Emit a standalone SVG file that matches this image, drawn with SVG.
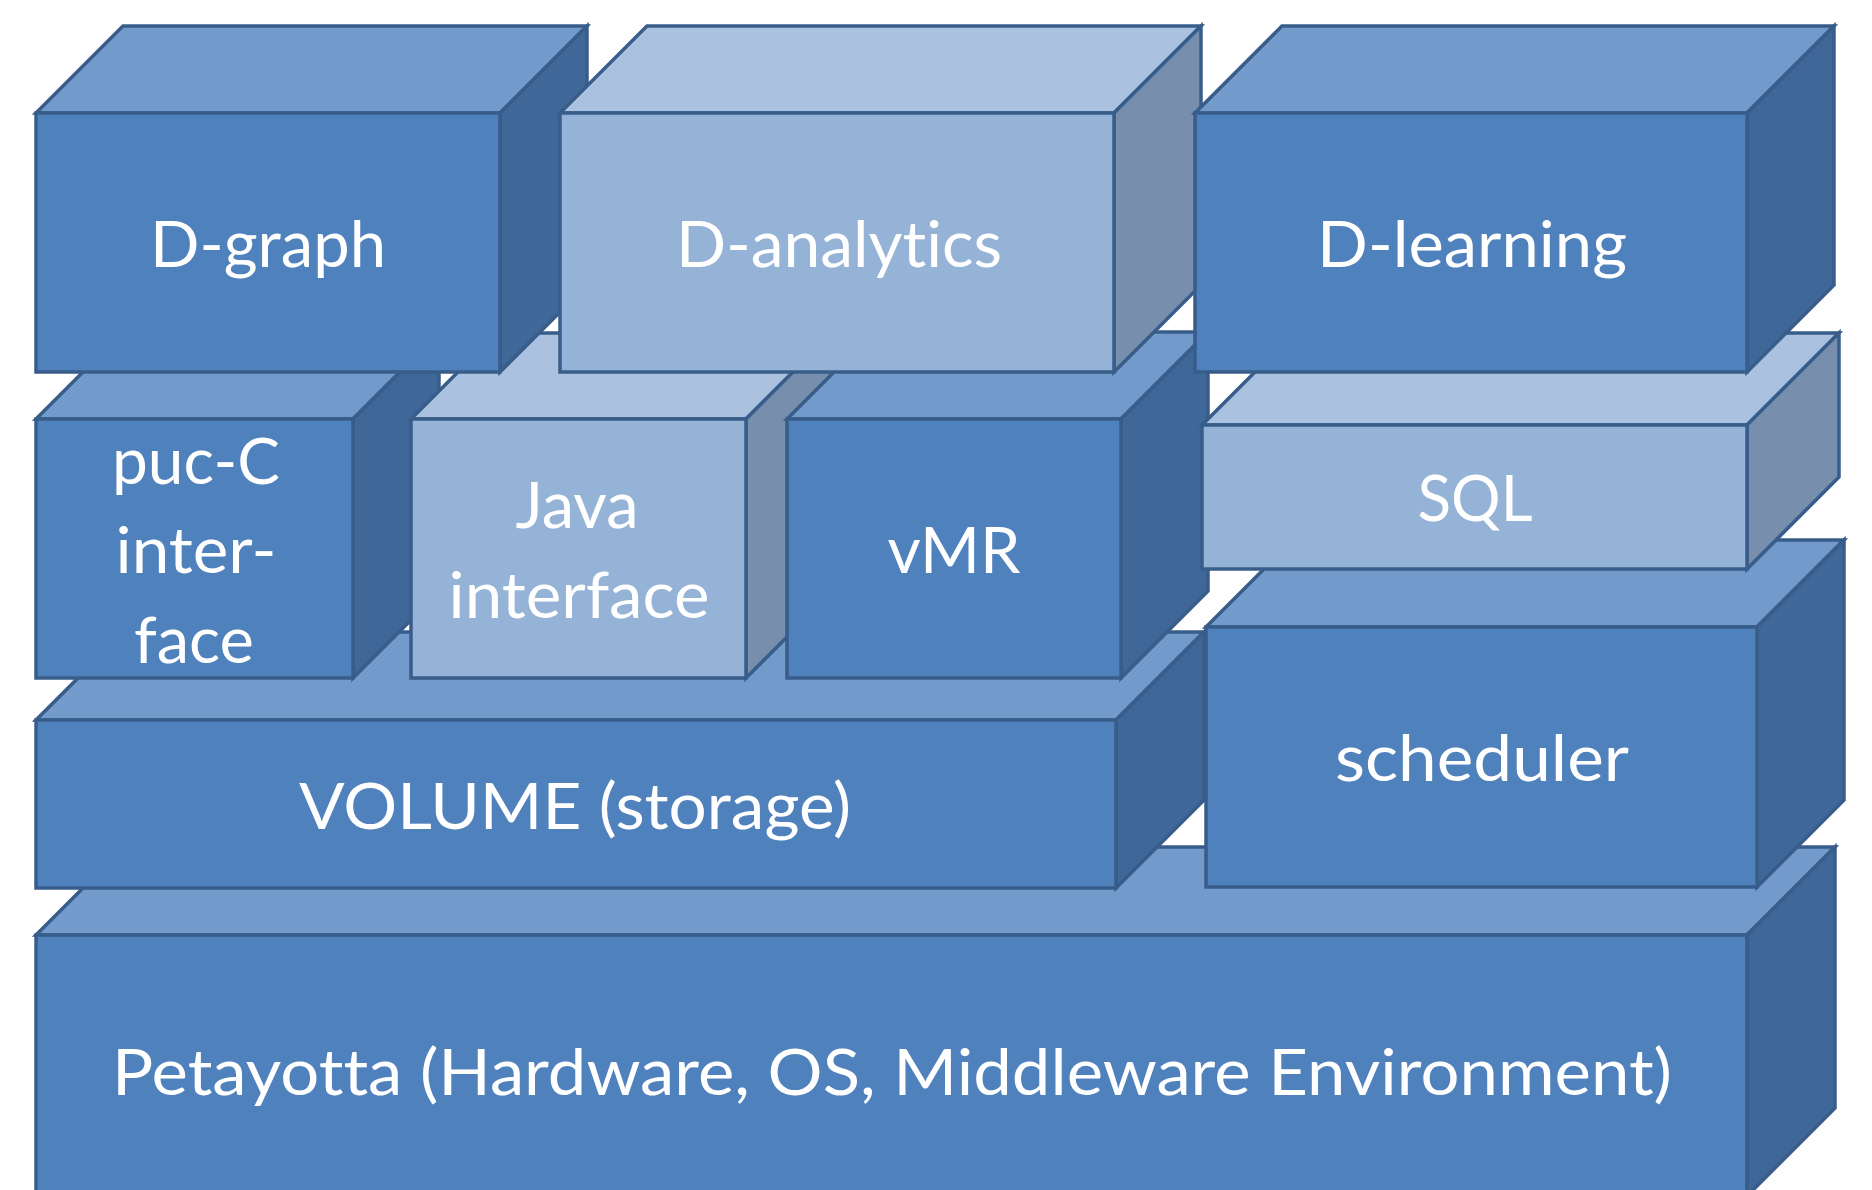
<svg xmlns="http://www.w3.org/2000/svg" width="1872" height="1190" viewBox="0 0 1872 1190">
<style>
.f{fill:#4F81BD}.t{fill:#729ACA}.s{fill:#3F6797}
.lf{fill:#95B3D7}.lt{fill:#AAC2DF}.ls{fill:#778FAC}
.n rect,.n polygon{stroke:#385D8A;stroke-width:3.5;stroke-linejoin:miter}
text{font-family:Lato,"Open Sans","Liberation Sans",sans-serif;font-size:63px;fill:#FFFFFF;text-anchor:middle;font-variant-ligatures:none;font-feature-settings:"liga" 0,"clig" 0}
</style>
<g id="petayotta" class="n">
<polygon class="t" points="36,935 124,847 1835,847 1747,935"/>
<polygon class="s" points="1747,935 1835,847 1835,1108 1747,1196"/>
<rect class="f" x="36" y="935" width="1711" height="261"/>
<text x="892" y="1095" textLength="1560" lengthAdjust="spacingAndGlyphs">Petayotta (Hardware, OS, Middleware Environment)</text>
</g>
<g id="volume" class="n">
<polygon class="t" points="36,720 124,632 1204,632 1116,720"/>
<polygon class="s" points="1116,720 1204,632 1204,800 1116,888"/>
<rect class="f" x="36" y="720" width="1080" height="168"/>
<text x="575" y="829" textLength="552" lengthAdjust="spacingAndGlyphs">VOLUME (storage)</text>
</g>
<g id="scheduler" class="n">
<polygon class="t" points="1206,627 1293,540 1844,540 1757,627"/>
<polygon class="s" points="1757,627 1844,540 1844,800 1757,887"/>
<rect class="f" x="1206" y="627" width="551" height="260"/>
<text x="1482" y="781" textLength="294" lengthAdjust="spacingAndGlyphs">scheduler</text>
</g>
<g id="puc-c" class="n">
<polygon class="t" points="36,419 122,333 439,333 353,419"/>
<polygon class="s" points="353,419 439,333 439,592 353,678"/>
<rect class="f" x="36" y="419" width="317" height="259"/>
<text x="196" y="484" textLength="168" lengthAdjust="spacingAndGlyphs">puc-C</text>
<text x="196" y="573" textLength="161" lengthAdjust="spacingAndGlyphs">inter-</text>
<text x="194" y="663" textLength="120" lengthAdjust="spacingAndGlyphs">face</text>
</g>
<g id="java" class="n">
<polygon class="lt" points="411,419 497,333 832,333 746,419"/>
<polygon class="ls" points="746,419 832,333 832,592 746,678"/>
<rect class="lf" x="411" y="419" width="335" height="259"/>
<text x="577" y="528" textLength="123" lengthAdjust="spacingAndGlyphs">Java</text>
<text x="579" y="618" textLength="261" lengthAdjust="spacingAndGlyphs">interface</text>
</g>
<g id="vmr" class="n">
<polygon class="t" points="787,419 874,332 1208,332 1121,419"/>
<polygon class="s" points="1121,419 1208,332 1208,591 1121,678"/>
<rect class="f" x="787" y="419" width="334" height="259"/>
<text x="954" y="573" textLength="133" lengthAdjust="spacingAndGlyphs">vMR</text>
</g>
<g id="sql" class="n">
<polygon class="lt" points="1202,425 1294,333 1839,333 1747,425"/>
<polygon class="ls" points="1747,425 1839,333 1839,477 1747,569"/>
<rect class="lf" x="1202" y="425" width="545" height="144"/>
<text x="1475" y="521" textLength="115" lengthAdjust="spacingAndGlyphs">SQL</text>
</g>
<g id="d-graph" class="n">
<polygon class="t" points="36,113 123,26 587,26 500,113"/>
<polygon class="s" points="500,113 587,26 587,285 500,372"/>
<rect class="f" x="36" y="113" width="464" height="259"/>
<text x="268" y="267" textLength="236" lengthAdjust="spacingAndGlyphs">D-graph</text>
</g>
<g id="d-analytics" class="n">
<polygon class="lt" points="560,113 647,26 1201,26 1114,113"/>
<polygon class="ls" points="1114,113 1201,26 1201,285 1114,372"/>
<rect class="lf" x="560" y="113" width="554" height="259"/>
<text x="839" y="267" textLength="326" lengthAdjust="spacingAndGlyphs">D-analytics</text>
</g>
<g id="d-learning" class="n">
<polygon class="t" points="1195,113 1282,26 1834,26 1747,113"/>
<polygon class="s" points="1747,113 1834,26 1834,285 1747,372"/>
<rect class="f" x="1195" y="113" width="552" height="259"/>
<text x="1472" y="267" textLength="310" lengthAdjust="spacingAndGlyphs">D-learning</text>
</g>
<g id="connectors"/>
</svg>
